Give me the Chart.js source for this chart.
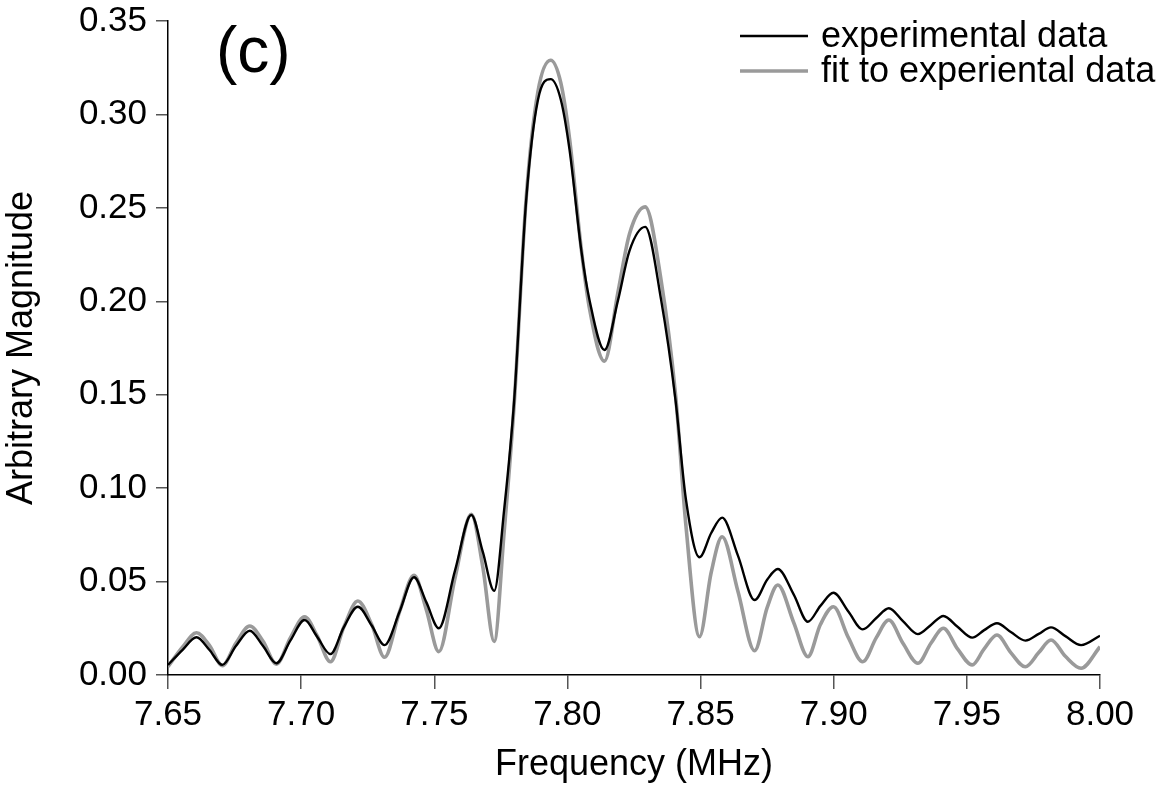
<!DOCTYPE html>
<html>
<head>
<meta charset="utf-8">
<script src="https://cdn.jsdelivr.net/npm/chart.js@4.4.1/dist/chart.umd.min.js"></script>
<style>
  html, body { margin: 0; padding: 0; background: #ffffff; }
  #c { display: block; }
</style>
</head>
<body>
<canvas id="c" width="1160" height="787"></canvas>
<script>
// Frequency (MHz) sample positions
const frequency = [
  7.6500, 7.6555, 7.6607, 7.6655, 7.6704, 7.6755, 7.6807, 7.6857, 7.6907, 7.6960,
  7.7013, 7.7060, 7.7110, 7.7160, 7.7213, 7.7265, 7.7313, 7.7370, 7.7424, 7.7470,
  7.7517, 7.7578, 7.7639, 7.7682, 7.7725, 7.7762, 7.7800, 7.7845, 7.7889, 7.7937,
  7.7975, 7.8008, 7.8052, 7.8083, 7.8139, 7.8190, 7.8233, 7.8292, 7.8352, 7.8406,
  7.8445, 7.8496, 7.8540, 7.8581, 7.8640, 7.8703, 7.8750, 7.8790, 7.8850, 7.8903,
  7.8950, 7.8999, 7.9055, 7.9109, 7.9160, 7.9207, 7.9260, 7.9316, 7.9365, 7.9412,
  7.9465, 7.9520, 7.9565, 7.9613, 7.9665, 7.9720, 7.9770, 7.9816, 7.9870, 7.9929,
  8.0000
];
// experimental data (black)
const experimental = [
  0.0054, 0.0135, 0.0202, 0.0135, 0.0054, 0.0155, 0.0237, 0.0155, 0.0063, 0.0185,
  0.0294, 0.0205, 0.0112, 0.0255, 0.0365, 0.0265, 0.0160, 0.0340, 0.0523, 0.0390,
  0.0250, 0.0560, 0.0856, 0.0660, 0.0450, 0.0880, 0.1470, 0.2540, 0.3076, 0.3189,
  0.3080, 0.2810, 0.2274, 0.2006, 0.1739, 0.2006, 0.2270, 0.2398, 0.2006, 0.1470,
  0.0940, 0.0630, 0.0760, 0.0842, 0.0640, 0.0401, 0.0510, 0.0567, 0.0430, 0.0285,
  0.0370, 0.0440, 0.0340, 0.0244, 0.0305, 0.0357, 0.0288, 0.0219, 0.0268, 0.0316,
  0.0258, 0.0200, 0.0240, 0.0277, 0.0230, 0.0184, 0.0220, 0.0255, 0.0208, 0.0160,
  0.0210
];
// fit to experiental data (grey)
const fitted = [
  0.0045, 0.0150, 0.0226, 0.0160, 0.0050, 0.0170, 0.0262, 0.0180, 0.0058, 0.0200,
  0.0312, 0.0210, 0.0071, 0.0255, 0.0396, 0.0270, 0.0095, 0.0340, 0.0533, 0.0350,
  0.0125, 0.0520, 0.0860, 0.0580, 0.0180, 0.0760, 0.1450, 0.2550, 0.3120, 0.3290,
  0.3170, 0.2870, 0.2280, 0.1960, 0.1680, 0.2050, 0.2360, 0.2505, 0.2110, 0.1500,
  0.0800, 0.0205, 0.0550, 0.0740, 0.0450, 0.0130, 0.0360, 0.0482, 0.0280, 0.0098,
  0.0270, 0.0365, 0.0200, 0.0071, 0.0200, 0.0294, 0.0170, 0.0063, 0.0170, 0.0250,
  0.0140, 0.0054, 0.0140, 0.0214, 0.0120, 0.0044, 0.0120, 0.0187, 0.0100, 0.0036,
  0.0151
];
const xTickValues = [7.65, 7.70, 7.75, 7.80, 7.85, 7.90, 7.95, 8.00];
const yTickValues = [0.00, 0.05, 0.10, 0.15, 0.20, 0.25, 0.30, 0.35];
const seriesLabels = ['experimental data', 'fit to experiental data'];
const panelLabel = '(c)';
const xTitle = 'Frequency (MHz)';
const yTitle = 'Arbitrary Magnitude';

const FONT = '"Liberation Sans", Arial, Helvetica, sans-serif';
const FS = 35;
const FT = 36;

const legendPlugin = {
  id: 'customLegend',
  afterDraw(chart) {
    const ctx = chart.ctx;
    ctx.save();
    // panel label
    ctx.fillStyle = '#000';
    ctx.font = `64px ${FONT}`;
    ctx.textBaseline = 'alphabetic';
    ctx.textAlign = 'left';
    ctx.fillText(panelLabel, 216, 72);
    // legend
    ctx.font = `${FT}px ${FONT}`;
    ctx.textBaseline = 'middle';
    const rows = [36, 71];
    chart.data.datasets.forEach((ds, i) => {
      const y = rows[i];
      ctx.strokeStyle = ds.borderColor;
      ctx.lineWidth = ds.borderWidth;
      ctx.beginPath();
      ctx.moveTo(740, y);
      ctx.lineTo(808, y);
      ctx.stroke();
      ctx.fillStyle = '#000';
      ctx.fillText(ds.label, 821, y + 1);
    });
    ctx.restore();
  }
};

new Chart(document.getElementById('c'), {
  type: 'line',
  data: {
    datasets: [
      {
        label: seriesLabels[0],
        data: frequency.map((f, i) => ({ x: f, y: experimental[i] })),
        borderColor: '#000000',
        borderWidth: 2.4,
        cubicInterpolationMode: 'monotone',
        pointRadius: 0,
        fill: false
      },
      {
        label: seriesLabels[1],
        data: frequency.map((f, i) => ({ x: f, y: fitted[i] })),
        borderColor: '#9a9a9a',
        borderWidth: 3.6,
        cubicInterpolationMode: 'monotone',
        pointRadius: 0,
        fill: false
      }
    ]
  },
  options: {
    responsive: false,
    animation: false,
    devicePixelRatio: 1,
    layout: { padding: { top: 21, right: 60, left: 0, bottom: 0 } },
    plugins: { legend: { display: false }, tooltip: { enabled: false } },
    scales: {
      x: {
        type: 'linear',
        min: 7.65,
        max: 8.00,
        afterBuildTicks: s => { s.ticks = xTickValues.map(v => ({ value: v })); },
        afterFit: s => { s.height = 112; },
        grid: { drawOnChartArea: false, drawTicks: true, tickLength: 14, color: '#555', lineWidth: 1.5 },
        border: { display: true, color: '#000', width: 1.5 },
        ticks: { font: { family: FONT, size: FS }, color: '#000', padding: 5, maxRotation: 0,
                 callback: v => Number(v).toFixed(2) },
        title: { display: true, text: xTitle, font: { family: FONT, size: FT }, color: '#000', padding: 0 }
      },
      y: {
        type: 'linear',
        min: 0,
        max: 0.35,
        afterBuildTicks: s => { s.ticks = yTickValues.map(v => ({ value: v })); },
        afterFit: s => { s.width = 168; s.paddingTop = 0; s.paddingBottom = 0; },
        grid: { drawOnChartArea: false, drawTicks: true, tickLength: 12, color: '#555', lineWidth: 1.5 },
        border: { display: true, color: '#000', width: 1.5 },
        ticks: { font: { family: FONT, size: FS }, color: '#000', padding: 9,
                 callback: v => Number(v).toFixed(2) },
        title: { display: true, text: yTitle, font: { family: FONT, size: FT }, color: '#000', padding: 0 }
      }
    }
  },
  plugins: [legendPlugin]
});
</script>
</body>
</html>
